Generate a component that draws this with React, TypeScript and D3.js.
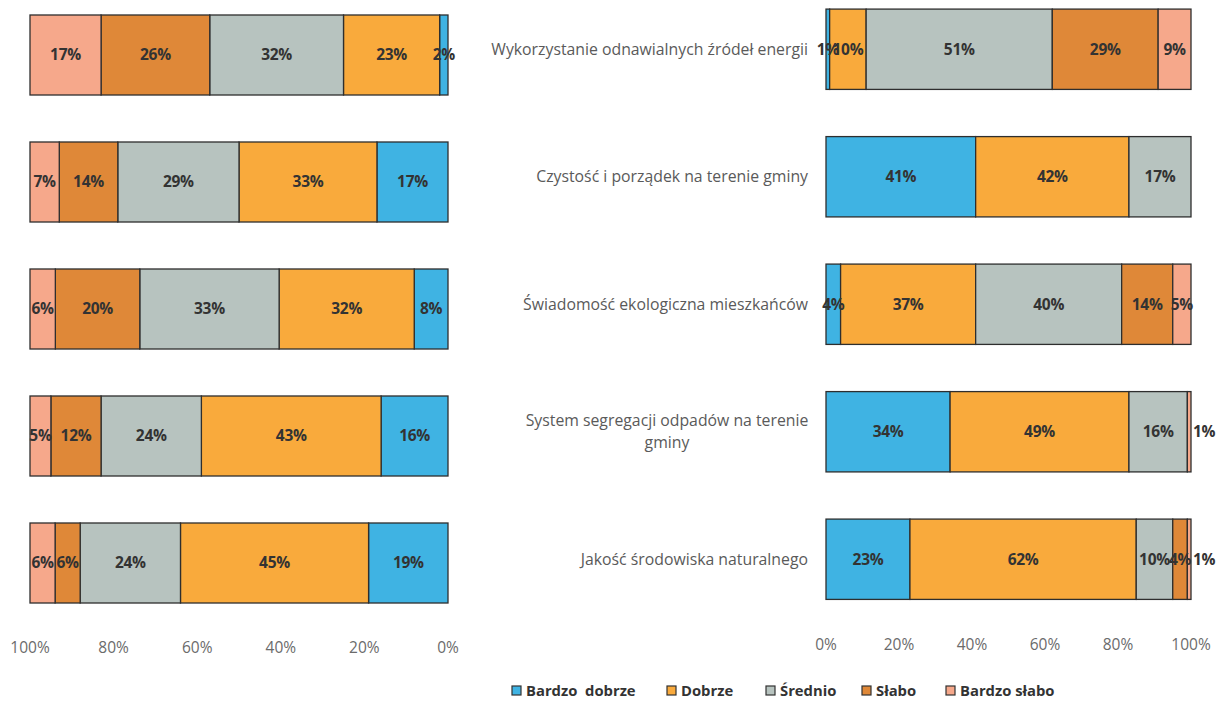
import React from "react";
import * as d3 from "d3";

const seriesNames = ["Bardzo  dobrze", "Dobrze", "Średnio", "Słabo", "Bardzo słabo"];
const seriesColors = ["#3fb3e3", "#f9aa3c", "#b7c3bf", "#df8838", "#f6a88b"];

const leftRows = ["L1", "L2", "L3", "L4", "L5"];
const leftValues = [
  [2, 23, 32, 26, 17],
  [17, 33, 29, 14, 7],
  [8, 32, 33, 20, 6],
  [16, 43, 24, 12, 5],
  [19, 45, 24, 6, 6],
];

const rightCategories = [
  ["Wykorzystanie odnawialnych źródeł energii"],
  ["Czystość i porządek na terenie gminy"],
  ["Świadomość ekologiczna mieszkańców"],
  ["System segregacji odpadów na terenie", "gminy"],
  ["Jakość środowiska naturalnego"],
];
const rightValues = [
  [1, 10, 51, 29, 9],
  [41, 42, 17, 0, 0],
  [4, 37, 40, 14, 5],
  [34, 49, 16, 0, 1],
  [23, 62, 10, 4, 1],
];

const ticks = [0, 0.2, 0.4, 0.6, 0.8, 1];

const FONT = "'Open Sans', sans-serif";

function segments(vals: number[]) {
  const total = d3.sum(vals);
  let cum = 0;
  return vals.map((v, i) => {
    const s = { i, v, a: cum / total, b: (cum + v) / total };
    cum += v;
    return s;
  });
}

function Panel({
  x,
  y,
  rows,
  values,
  tickY,
}: {
  x: d3.ScaleLinear<number, number>;
  y: d3.ScaleBand<string>;
  rows: string[];
  values: number[][];
  tickY: number;
}) {
  const h = y.bandwidth();
  return (
    <g>
      {values.map((vals, r) => {
        const y0 = y(rows[r]) as number;
        const segs = segments(vals);
        return (
          <g key={r}>
            {segs.map((s) => {
              if (s.v === 0) return null;
              const x0 = Math.min(x(s.a), x(s.b));
              const x1 = Math.max(x(s.a), x(s.b));
              return (
                <rect
                  key={s.i}
                  x={x0}
                  y={y0}
                  width={x1 - x0}
                  height={h}
                  fill={seriesColors[s.i]}
                  stroke="#2e2e2e"
                  strokeWidth={1.3}
                />
              );
            })}
            {segs.map((s) => {
              if (s.v === 0) return null;
              // tiny segment at the far end of the 100% edge: label sits past the bar end
              const atEnd = s.i === vals.length - 1 && s.v <= 1;
              return (
                <text
                  key={"t" + s.i}
                  x={atEnd ? x(s.b) + 2 : (x(s.a) + x(s.b)) / 2}
                  y={y0 + h / 2}
                  dy="0.35em"
                  textAnchor={atEnd ? "start" : "middle"}
                  fontFamily={FONT}
                  fontWeight="bold"
                  fontSize={15.5}
                  letterSpacing={-0.3}
                  fill="#333"
                >
                  {s.v}%
                </text>
              );
            })}
          </g>
        );
      })}
      {ticks.map((t) => (
        <text
          key={t}
          x={x(t)}
          y={tickY}
          dy="0.35em"
          textAnchor="middle"
          fontFamily={FONT}
          fontSize={15.5}
          fill="#6b6b6b"
        >
          {Math.round(t * 100)}%
        </text>
      ))}
    </g>
  );
}

export default function App() {
  const xLeft = d3.scaleLinear().domain([1, 0]).range([30, 448]);
  const yLeft = d3
    .scaleBand<string>()
    .domain(leftRows)
    .range([-8.5, 626.5])
    .paddingInner(0.37)
    .paddingOuter(0.185);

  const rightKeys = rightCategories.map((c) => c.join(" "));
  const xRight = d3.scaleLinear().domain([0, 1]).range([826, 1191]);
  const yRight = d3
    .scaleBand<string>()
    .domain(rightKeys)
    .range([-14.5, 623])
    .paddingInner(0.37)
    .paddingOuter(0.185);

  const legendX = [512, 667, 766, 862, 946];

  return (
    <svg
      width={1218}
      height={702}
      style={{ position: "fixed", left: 0, top: 0, background: "#fff" }}
    >
      <rect width={1218} height={702} fill="#fff" />
      <Panel x={xLeft} y={yLeft} rows={leftRows} values={leftValues} tickY={648} />
      <Panel x={xRight} y={yRight} rows={rightKeys} values={rightValues} tickY={645} />
      {rightCategories.map((lines, r) => {
        const cy = (yRight(rightKeys[r]) as number) + yRight.bandwidth() / 2;
        if (lines.length === 1) {
          return (
            <text
              key={r}
              x={808}
              y={cy}
              dy="0.35em"
              textAnchor="end"
              fontFamily={FONT}
              fontSize={15.8}
              fill="#5a5a5a"
            >
              {lines[0]}
            </text>
          );
        }
        return (
          <g key={r}>
            {lines.map((l, k) => (
              <text
                key={k}
                x={667}
                y={cy - 11 + k * 22}
                dy="0.35em"
                textAnchor="middle"
                fontFamily={FONT}
                fontSize={15.8}
                fill="#5a5a5a"
              >
                {l}
              </text>
            ))}
          </g>
        );
      })}
      {seriesNames.map((n, i) => (
        <g key={n}>
          <rect
            x={legendX[i]}
            y={686}
            width={9}
            height={9}
            fill={seriesColors[i]}
            stroke="#333"
            strokeWidth={1.2}
          />
          <text
            x={legendX[i] + 14}
            y={690.5}
            dy="0.35em"
            fontFamily={FONT}
            fontWeight="bold"
            fontSize={14.8}
            fill="#333"
            style={{ whiteSpace: "pre" }}
          >
            {n}
          </text>
        </g>
      ))}
    </svg>
  );
}
